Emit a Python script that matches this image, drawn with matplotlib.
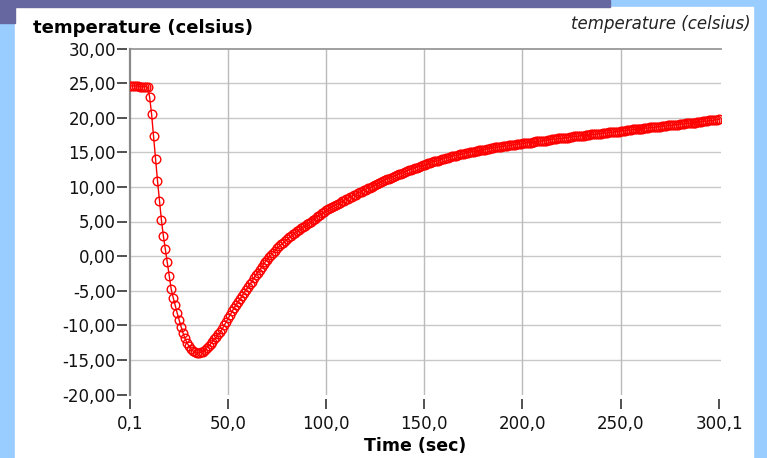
"""Temperature logger trace: cold drop and slow recovery over 300 s."""

import numpy as np
import matplotlib
matplotlib.use("Agg")
import matplotlib.pyplot as plt
from matplotlib.patches import Rectangle

# logger samples once per second starting at 0,1 s
time_s = np.arange(301) + 0.1

temperature_c = [
    24.6, 24.6, 24.6, 24.6, 24.6, 24.5, 24.5, 24.5, 24.5, 24.4,
    23.0, 20.5, 17.3, 14.0, 10.9, 8.0, 5.2, 2.9, 1.0, -0.8,
    -2.9, -4.8, -6.0, -7.1, -8.2, -9.2, -10.2, -11.1, -11.9, -12.5,
    -13.0, -13.4, -13.7, -13.9, -14.0, -14.0, -13.9, -13.8, -13.6, -13.3,
    -13.0, -12.7, -12.4, -12.0, -11.7, -11.3, -11.0, -10.5, -10.0, -9.5,
    -9.0, -8.5, -8.0, -7.5, -7.0, -6.6, -6.2, -5.8, -5.3, -4.9,
    -4.5, -4.1, -3.7, -3.2, -2.8, -2.4, -2.0, -1.6, -1.2, -0.8,
    -0.5, -0.1, 0.2, 0.5, 0.8, 1.1, 1.4, 1.7, 1.9, 2.2,
    2.4, 2.7, 2.9, 3.2, 3.4, 3.6, 3.8, 4.0, 4.2, 4.4,
    4.6, 4.8, 5.0, 5.2, 5.4, 5.6, 5.8, 6.0, 6.2, 6.4,
    6.6, 6.8, 6.9, 7.1, 7.3, 7.4, 7.6, 7.7, 7.9, 8.0,
    8.2, 8.3, 8.5, 8.6, 8.8, 8.9, 9.1, 9.2, 9.3, 9.5,
    9.6, 9.8, 9.9, 10.0, 10.2, 10.3, 10.4, 10.6, 10.7, 10.8,
    11.0, 11.1, 11.2, 11.3, 11.5, 11.6, 11.7, 11.8, 11.9, 12.0,
    12.2, 12.3, 12.4, 12.5, 12.6, 12.7, 12.8, 12.9, 13.0, 13.1,
    13.2, 13.3, 13.4, 13.5, 13.6, 13.7, 13.7, 13.8, 13.9, 14.0,
    14.1, 14.2, 14.2, 14.3, 14.4, 14.5, 14.5, 14.6, 14.7, 14.7,
    14.8, 14.9, 14.9, 15.0, 15.1, 15.1, 15.2, 15.2, 15.3, 15.3,
    15.4, 15.4, 15.5, 15.5, 15.6, 15.6, 15.7, 15.7, 15.8, 15.8,
    15.9, 15.9, 15.9, 16.0, 16.0, 16.1, 16.1, 16.2, 16.2, 16.2,
    16.3, 16.3, 16.4, 16.4, 16.4, 16.5, 16.5, 16.6, 16.6, 16.6,
    16.7, 16.7, 16.7, 16.8, 16.8, 16.9, 16.9, 16.9, 17.0, 17.0,
    17.0, 17.1, 17.1, 17.1, 17.2, 17.2, 17.3, 17.3, 17.3, 17.4,
    17.4, 17.4, 17.5, 17.5, 17.5, 17.6, 17.6, 17.6, 17.7, 17.7,
    17.7, 17.8, 17.8, 17.8, 17.9, 17.9, 17.9, 18.0, 18.0, 18.0,
    18.1, 18.1, 18.1, 18.2, 18.2, 18.2, 18.3, 18.3, 18.3, 18.4,
    18.4, 18.4, 18.5, 18.5, 18.5, 18.6, 18.6, 18.6, 18.7, 18.7,
    18.7, 18.8, 18.8, 18.8, 18.9, 18.9, 18.9, 19.0, 19.0, 19.0,
    19.1, 19.1, 19.1, 19.2, 19.2, 19.2, 19.3, 19.3, 19.3, 19.4,
    19.4, 19.4, 19.5, 19.5, 19.5, 19.6, 19.6, 19.6, 19.7, 19.7,
    19.8,
]

x_ticks = [0.1, 50.0, 100.0, 150.0, 200.0, 250.0, 300.1]
x_tick_labels = ["0,1", "50,0", "100,0", "150,0", "200,0", "250,0", "300,1"]
y_ticks = [30, 25, 20, 15, 10, 5, 0, -5, -10, -15, -20]
y_tick_labels = ["30,00", "25,00", "20,00", "15,00", "10,00", "5,00", "0,00",
                 "-5,00", "-10,00", "-15,00", "-20,00"]

W, H = 767, 458
BLUE = "#99CCFF"
PURPLE = "#6666A0"


def main():
    plt.rcParams["font.family"] = "DejaVu Sans"
    fig = plt.figure(figsize=(W / 100, H / 100), dpi=100, facecolor=BLUE)

    # slide background: white panel, purple header strip
    fig.patches.append(Rectangle((15 / W, 0), 738 / W, 451 / H,
                                 transform=fig.transFigure, color="white", zorder=-2))
    fig.patches.append(Rectangle((0, 451 / H), 610 / W, 7 / H,
                                 transform=fig.transFigure, color=PURPLE, zorder=-2))
    fig.patches.append(Rectangle((0, 435 / H), 15 / W, 23 / H,
                                 transform=fig.transFigure, color=PURPLE, zorder=-2))

    ax = fig.add_axes([130 / W, 63.5 / H, 591 / W, 346 / H])
    ax.set_zorder(2)
    ax.set_facecolor("white")
    ax.set_xlim(0.1, 301.1)
    ax.set_ylim(-20, 30)

    # grid drawn by hand so the edges stay clean like the original
    for y in y_ticks[1:-1]:
        ax.axhline(y, color="#c8c8c8", lw=1.0, zorder=1)
    for x in x_ticks[1:-1]:
        ax.axvline(x, color="#bbbbbb", lw=1.0, zorder=1)
    ax.axvline(0.1, color="#8a8a8a", lw=1.6, zorder=3, clip_on=False)

    ax.plot(time_s, temperature_c, color="red", lw=1.0, marker="o",
            mfc="none", mec="red", ms=6.2, mew=1.0, zorder=4)

    for side in ("right", "bottom", "left"):
        ax.spines[side].set_visible(False)
    ax.spines["top"].set_color("#999999")
    ax.spines["top"].set_linewidth(1.3)
    ax.spines["left"].set_position(("outward", 2))
    ax.spines["bottom"].set_position(("outward", 3))

    ax.set_xticks(x_ticks)
    ax.set_xticklabels(x_tick_labels)
    ax.set_yticks(y_ticks)
    ax.set_yticklabels(y_tick_labels)
    ax.tick_params(axis="both", direction="out", length=7, width=1.1,
                   color="#222222", labelsize=12, labelcolor="#111111")
    ax.tick_params(axis="y", pad=1)
    ax.tick_params(axis="x", pad=5)

    fig.text(33 / W, 1 - 28 / H, "temperature (celsius)", fontsize=13,
             fontweight="bold", va="center", ha="left")
    fig.text(751 / W, 1 - 24 / H, "temperature (celsius)", fontsize=12,
             style="italic", va="center", ha="right", color="#222222")
    fig.text(415 / W, 1 - 446 / H, "Time (sec)", fontsize=12.5,
             fontweight="bold", va="center", ha="center")

    fig.savefig("out.png", dpi=100, facecolor=BLUE)


if __name__ == "__main__":
    main()
